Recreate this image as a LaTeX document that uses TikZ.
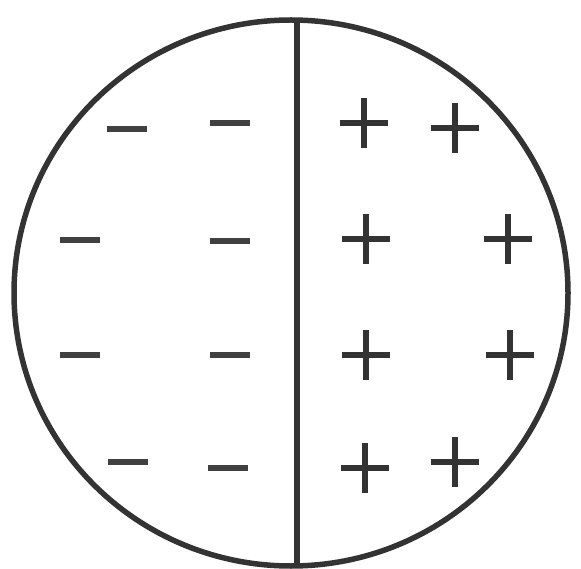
\documentclass[tikz,border=0pt]{standalone}
\begin{document}
\begin{tikzpicture}[x=1pt,y=-1pt,
  outline/.style={draw=black!80,line width=5.5pt},
  minussign/.style={draw=black!75,line width=6pt},
  plussign/.style={draw=black!80,line width=6pt}]
\useasboundingbox (0,0) rectangle (581,569);
\fill[white] (0,0) rectangle (581,569);
% circle
\draw[outline] (291,293) ellipse (277pt and 273pt);
% divider
\draw[outline] (297,20) -- (297,567);
% minus signs
\foreach \x/\y in {127/129,230/123,80/240,230/241,80/355,230/355,128/462,228/468}
  \draw[minussign] (\x-20,\y) -- (\x+20,\y);
% plus signs
\foreach \x/\y in {364/123,455/128,366/239,508/239,366/355,510/355,365/468,455/462}
  {\draw[plussign] (\x-24,\y) -- (\x+24,\y);
   \draw[plussign] (\x,\y-25) -- (\x,\y+25);}
\end{tikzpicture}
\end{document}
